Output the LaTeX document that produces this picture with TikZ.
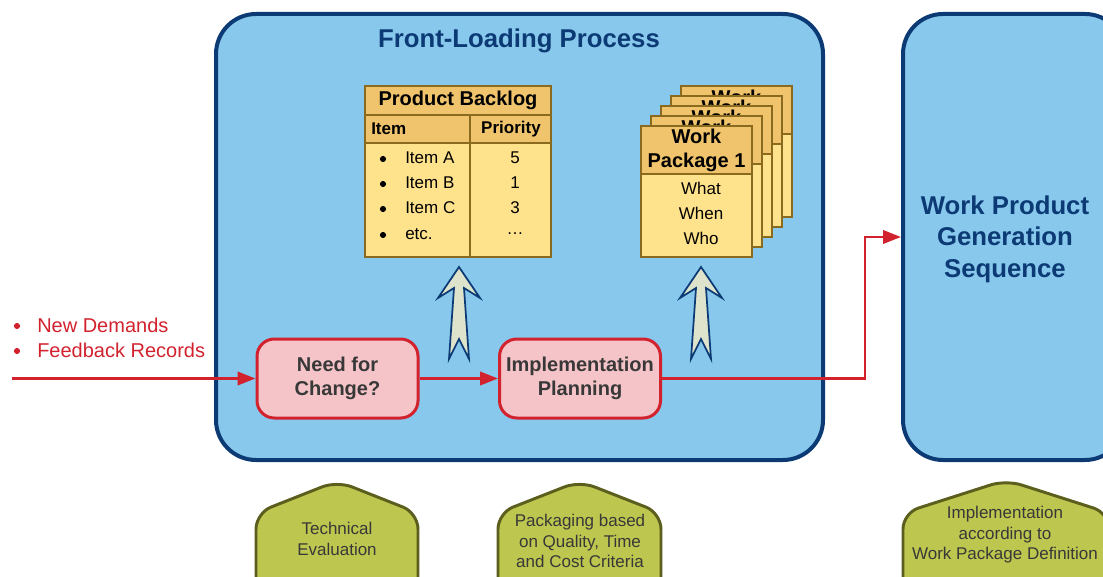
\documentclass[tikz,border=0pt]{standalone}
\usepackage{fontspec}
\setmainfont{Liberation Sans}
\usetikzlibrary{arrows.meta, positioning}

\definecolor{azul}{HTML}{88C8EC}
\definecolor{marinho}{HTML}{0B3A74}
\definecolor{laranja}{HTML}{F0C46C}
\definecolor{amarelo}{HTML}{FFE38C}
\definecolor{marrom}{HTML}{8A6A1E}
\definecolor{rosa}{HTML}{F5C4C8}
\definecolor{vermelho}{HTML}{D2222E}
\definecolor{oliva}{HTML}{BDC64E}
\definecolor{olivaesc}{HTML}{5B5E1C}
\definecolor{palha}{HTML}{DEE3CC}
\definecolor{grafite}{HTML}{383838}

\begin{document}
\begin{tikzpicture}[x=0.75pt, y=-0.75pt,
  bloco/.style={draw=marinho, line width=3pt, fill=azul, rounded corners=30pt, inner sep=0pt},
  titulo/.style={text=marinho, font=\fontsize{19.3}{23.6}\selectfont\bfseries, align=center},
  cab/.style={draw=marrom, line width=1.5pt, fill=laranja, inner sep=0pt, align=center,
    font=\fontsize{15}{18}\selectfont\bfseries},
  corpo/.style={draw=marrom, line width=1.5pt, fill=amarelo, inner sep=0pt},
  txt/.style={inner sep=0pt, font=\fontsize{12.75}{15}\selectfont},
  negrito/.style={inner sep=0pt, font=\fontsize{12.75}{15}\selectfont\bfseries},
  ponto/.style={circle, fill=black, inner sep=0pt, minimum size=4.6pt},
  etapa/.style={draw=vermelho, line width=2.25pt, fill=rosa, rounded corners=13pt,
    minimum width=120.75pt, minimum height=59.25pt, align=center, text=grafite,
    font=\fontsize{15}{18}\selectfont\bfseries},
  fluxo/.style={draw=vermelho, line width=2pt, -{Triangle[length=13.5pt, width=10pt]}},
  seta/.style={draw=marinho, line width=1.3pt, fill=palha},
  casa/.style={draw=olivaesc, line width=2.2pt, fill=oliva, rounded corners=12pt},
  rotulo/.style={align=center, text=grafite, font=\fontsize{12.75}{15.4}\selectfont}]

\useasboundingbox (0,0) rectangle (1103,577);
\clip (0,0) rectangle (1103,577);

% caixas grandes
\node[bloco, minimum width=455.25pt, minimum height=334.5pt] (frontload) at (519.5,237) {};
\node[titulo] (tfront) at (519,41) {Front-Loading Process};

\node[bloco, minimum width=166.5pt, minimum height=334.5pt] (wpgs) at (1014,237) {};
\node[titulo] (twpgs) at (1005,239) {Work Product\\Generation\\Sequence};

% backlog
\node[cab, minimum width=139.5pt, minimum height=21.75pt] (pbtit) at (458,100.5) {Product Backlog};
\node[cab, minimum width=78.75pt, minimum height=21pt] (pbitem) at (417.5,129) {};
\node[cab, minimum width=60.75pt, minimum height=21pt] (pbprio) at (510.5,129) {};
\node[negrito, anchor=west] (titem) at (371,129) {Item};
\node[negrito] (tprio) at (511,129) {Priority};
\node[corpo, minimum width=78.75pt, minimum height=85.5pt] (pbcol1) at (417.5,200) {};
\node[corpo, minimum width=60.75pt, minimum height=85.5pt] (pbcol2) at (510.5,200) {};
\foreach \y/\item/\p in {158/Item A/5, 183/Item B/1, 208/Item C/3, 234/etc./\ldots} {
  \node[ponto] (bul\y) at (383,\y+1) {};
  \node[txt, anchor=west] (it\y) at (405,\y) {\item};
  \node[txt] (pr\y) at (515,\y) {\p};
}

% pacotes de trabalho
\foreach \i in {5,4,3,2} {
  \pgfmathsetmacro\dx{(\i-1)*10}
  \node[corpo, minimum width=83.25pt, minimum height=98.25pt] (wp\i) at (696.5+\dx,191.5-\dx) {};
  \node[cab, minimum width=83.25pt, minimum height=36pt] (wph\i) at (696.5+\dx,150-\dx) {};
  \node[cab, draw=none, fill=none] (wpt\i) at (696.5+\dx,137-\dx) {Work};
}
\node[corpo, minimum width=83.25pt, minimum height=98.25pt] (wp1) at (696.5,191.5) {};
\node[cab, minimum width=83.25pt, minimum height=36pt] (wph1) at (696.5,150) {Work\\Package 1};
\node[txt] (what) at (701,188) {What};
\node[txt] (when) at (701,213) {When};
\node[txt] (who) at (701,238) {Who};

% setas para cima
\foreach \x in {459,701}
  \draw[seta] (\x,267) -- ++(-21,31) -- ++(16,-10) -- ++(-5,71) -- ++(10,-20)
    -- ++(10,20) -- ++(-5,-71) -- ++(16,10) -- cycle;

% etapas
\node[etapa] (need) at (337.5,378.5) {Need for\\Change?};
\node[etapa] (impl) at (580,378.5) {Implementation\\Planning};

% entradas
\node[ponto, fill=vermelho] (p1) at (17,326) {};
\node[txt, anchor=west, text=vermelho, font=\fontsize{15}{18}\selectfont] (demandas) at (37,325) {New Demands};
\node[ponto, fill=vermelho] (p2) at (17,351) {};
\node[txt, anchor=west, text=vermelho, font=\fontsize{15}{18}\selectfont] (feedback) at (37,350) {Feedback Records};

% fluxo
\coordinate (entrada) at (12,378.5);
\coordinate (desvio) at (865,378.5);
\draw[fluxo] (entrada) -- (need);
\draw[fluxo] (need) -- (impl);
\draw[fluxo] (impl) -- (desvio) |- (wpgs);

% criterios
\foreach \cx/\hw/\py in {337/81/481, 579.5/81.5/481, 1006/103/480}
  \draw[casa] (\cx-\hw,600) -- (\cx-\hw,513) -- (\cx,\py) -- (\cx+\hw,513) -- (\cx+\hw,600);
\node[rotulo] (tecnica) at (337,539) {Technical\\Evaluation};
\node[rotulo] (pacote) at (580,541) {Packaging based\\on Quality, Time\\and Cost Criteria};
\node[rotulo] (conforme) at (1005,535) {Implementation\\according to\\Work Package Definition};

\end{tikzpicture}
\end{document}
